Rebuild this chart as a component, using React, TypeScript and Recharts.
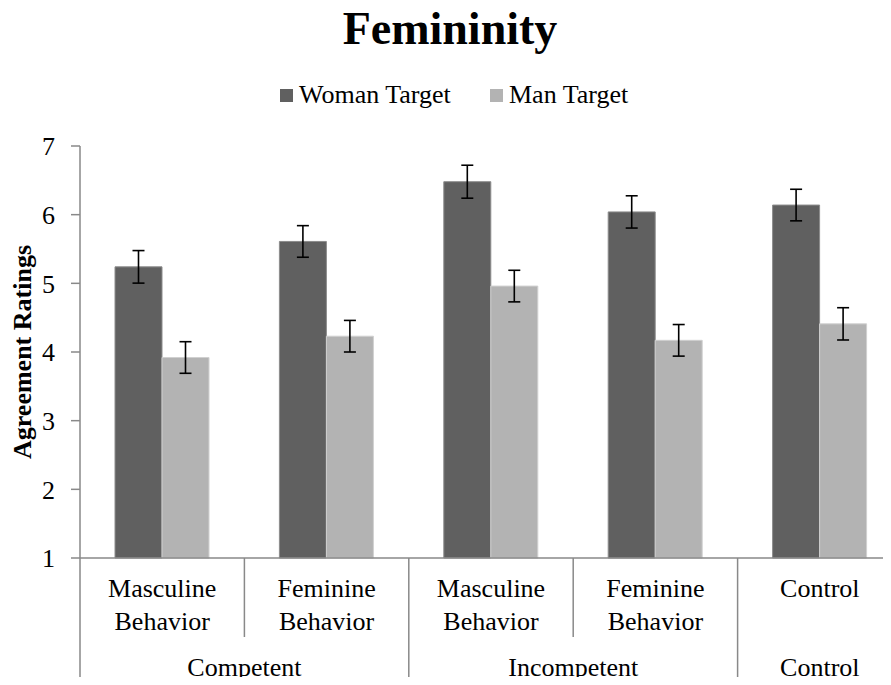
import React from 'react';
import { BarChart, Bar, XAxis, YAxis, ErrorBar } from 'recharts';

// chart values
const categories = ['Masculine\nBehavior', 'Feminine\nBehavior', 'Masculine\nBehavior', 'Feminine\nBehavior', 'Control'];
const groups = ['Competent', 'Competent', 'Incompetent', 'Incompetent', 'Control'];
const womanTarget = [5.24, 5.61, 6.48, 6.04, 6.14];
const womanErr = [0.237, 0.23, 0.24, 0.235, 0.23];
const manTarget = [3.92, 4.23, 4.96, 4.17, 4.41];
const manErr = [0.23, 0.23, 0.23, 0.23, 0.235];
const yTicks = [1, 2, 3, 4, 5, 6, 7];

const data = categories.map((name, i) => ({
  name,
  woman: womanTarget[i],
  womanErr: womanErr[i],
  man: manTarget[i],
  manErr: manErr[i],
}));

// layout
const CHART_W = 910;
const CHART_H = 685;
const PLOT_LEFT = 80;
const PLOT_RIGHT = 902;
const PLOT_BOTTOM = 558;
const CAT_W = (PLOT_RIGHT - PLOT_LEFT) / categories.length;
const FONT = 'Liberation Serif, Times New Roman, serif';
const AXIS_COLOR = '#898989';
const WOMAN_COLOR = '#606060';
const MAN_COLOR = '#b3b3b3';

const CategoryTick = (props: any) => {
  const { x, index } = props;
  const left = x - CAT_W / 2;
  const lines = categories[index].split('\n');
  const groupStart = index === 0 || groups[index] !== groups[index - 1];
  let span = 1;
  while (groupStart && index + span < groups.length && groups[index + span] === groups[index]) span++;
  return (
    <g>
      <line x1={left} y1={PLOT_BOTTOM} x2={left} y2={groupStart ? CHART_H : 637} stroke={AXIS_COLOR} strokeWidth={1.5} />
      {lines.map((l, i) => (
        <text key={i} x={x} y={597 + i * 33} textAnchor="middle" style={{ fontSize: 26, fontFamily: FONT, fill: '#000' }}>
          {l}
        </text>
      ))}
      {groupStart && (
        <text x={left + (span * CAT_W) / 2} y={676} textAnchor="middle" style={{ fontSize: 26, fontFamily: FONT, fill: '#000' }}>
          {groups[index]}
        </text>
      )}
    </g>
  );
};

const YTitle = () => (
  <text
    x={31}
    y={352}
    transform="rotate(-90 31 352)"
    textAnchor="middle"
    style={{ fontSize: 26, fontWeight: 'bold', fontFamily: FONT, fill: '#000' }}
  >
    Agreement Ratings
  </text>
);

const LegendItem = ({ color, label, left }: { color: string; label: string; left: number }) => (
  <div style={{ position: 'absolute', left, top: 80, display: 'flex', alignItems: 'center', whiteSpace: 'nowrap' }}>
    <span style={{ width: 13, height: 13, background: color, display: 'inline-block', marginRight: 6 }} />
    <span style={{ fontSize: 26, fontFamily: FONT, lineHeight: '30px' }}>{label}</span>
  </div>
);

const App: React.FC = () => {
  return (
    <div style={{ position: 'relative', margin: -8, width: 891, height: 685, overflow: 'hidden', background: '#fff' }}>
      <div
        style={{
          position: 'absolute',
          left: 0,
          width: 900,
          top: 0,
          textAlign: 'center',
          fontFamily: FONT,
          fontWeight: 'bold',
          fontSize: 46,
          lineHeight: '58px',
        }}
      >
        Femininity
      </div>
      <LegendItem color={WOMAN_COLOR} label="Woman Target" left={280} />
      <LegendItem color={MAN_COLOR} label="Man Target" left={490} />
      <div style={{ position: 'absolute', left: 0, top: 0 }}>
        <BarChart
          width={CHART_W}
          height={CHART_H}
          data={data}
          margin={{ top: 146, right: CHART_W - PLOT_RIGHT, left: 0, bottom: 0 }}
          barGap={0}
          barSize={47}
        >
          <XAxis
            dataKey="name"
            height={CHART_H - PLOT_BOTTOM}
            interval={0}
            tickLine={false}
            axisLine={{ stroke: AXIS_COLOR, strokeWidth: 1.5 }}
            tick={<CategoryTick />}
          />
          <YAxis
            width={PLOT_LEFT}
            domain={[1, 7]}
            ticks={yTicks}
            tickSize={9}
            tickMargin={16}
            axisLine={{ stroke: AXIS_COLOR, strokeWidth: 1.5 }}
            tickLine={{ stroke: AXIS_COLOR, strokeWidth: 1.5 }}
            tick={{ fontSize: 26, fontFamily: FONT, fill: '#000' }}
            label={<YTitle />}
          />
          <Bar dataKey="woman" name="Woman Target" fill={WOMAN_COLOR} stroke="#8c8c8c" strokeWidth={1} isAnimationActive={false}>
            <ErrorBar dataKey="womanErr" width={6} stroke="#000" strokeWidth={1.6} direction="y" />
          </Bar>
          <Bar dataKey="man" name="Man Target" fill={MAN_COLOR} stroke="#d0d0d0" strokeWidth={1} isAnimationActive={false}>
            <ErrorBar dataKey="manErr" width={6} stroke="#000" strokeWidth={1.6} direction="y" />
          </Bar>
        </BarChart>
      </div>
    </div>
  );
};

export default App;
